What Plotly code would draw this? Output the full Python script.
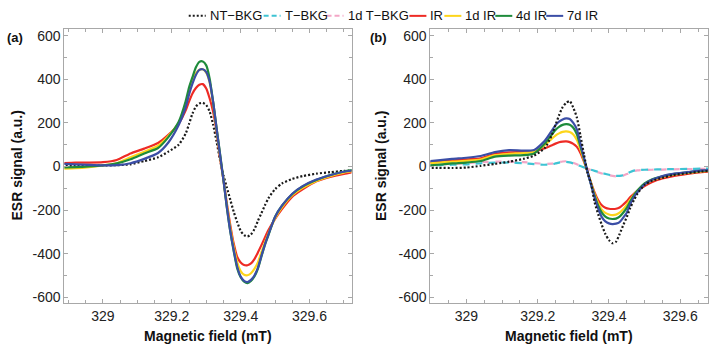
import plotly.graph_objects as go

# Magnetic field grid (mT), shared by all spectra
field = [328.88, 328.92, 328.96, 329.00, 329.04, 329.08, 329.12, 329.16, 329.19, 329.22,
         329.24, 329.25, 329.26, 329.27, 329.28, 329.29, 329.30, 329.31, 329.32, 329.33,
         329.34, 329.35, 329.36, 329.37, 329.38, 329.39, 329.40, 329.41, 329.42, 329.43,
         329.44, 329.45, 329.46, 329.47, 329.48, 329.50, 329.52, 329.55, 329.58, 329.62,
         329.66, 329.70, 329.73]

# Panel (a) spectra
a_nt_bkg = [5, 4, 4, 5, 6, 10, 25, 42, 68, 100,
            150, 195, 243, 275, 289, 292, 282, 252, 192, 115,
            30, -40, -97, -153, -209, -255, -295, -315, -321, -312,
            -288, -250, -215, -180, -147, -104, -78, -57, -44, -33,
            -26, -20, -17]
a_ir = [15, 18, 18, 20, 30, 60, 82, 108, 145, 197,
        257, 298, 335, 360, 375, 378, 358, 312, 251, 160,
        40, -60, -170, -270, -355, -415, -440, -452, -453, -445,
        -425, -395, -362, -328, -294, -240, -195, -138, -105, -68,
        -48, -34, -25]
a_1d_ir = [-10, -8, -3, 5, 15, 42, 68, 95, 140, 200,
           285, 340, 392, 428, 444, 446, 430, 385, 290, 172,
           50, -62, -180, -285, -370, -440, -480, -497, -499, -490,
           -470, -440, -395, -350, -310, -237, -187, -132, -98, -66,
           -44, -28, -20]
a_4d_ir = [-5, -3, 0, 5, 14, 33, 60, 85, 135, 205,
           298, 362, 410, 455, 480, 482, 464, 403, 297, 176,
           60, -60, -190, -300, -390, -468, -508, -528, -535, -525,
           -505, -470, -415, -362, -318, -230, -180, -126, -92, -62,
           -39, -23, -15]
a_7d_ir = [12, 10, 7, 5, 6, 15, 35, 62, 110, 190,
           270, 330, 380, 420, 443, 446, 433, 388, 297, 176,
           55, -62, -188, -298, -385, -460, -505, -525, -530, -520,
           -500, -465, -412, -360, -315, -232, -180, -125, -90, -60,
           -40, -24, -17]

# Panel (b) spectra
b_nt_bkg = [-6, -6, -7, -5, 3, 12, 22, 35, 50, 85,
            145, 190, 235, 272, 292, 300, 270, 225, 142, 55,
            -27, -80, -165, -220, -268, -310, -338, -352, -345, -310,
            -270, -232, -190, -155, -125, -84, -66, -52, -39, -31,
            -23, -18, -15]
b_t_bkg = [5, 6, 8, 10, 15, 18, 18, 15, 11, 8,
           10, 14, 18, 20, 21, 19, 14, 8, 2, -4,
           -10, -15, -20, -25, -30, -34, -38, -41, -43, -43,
           -40, -33, -25, -19, -17, -15, -14, -13, -12, -11,
           -10, -9, -8]
b_1d_t_bkg = [8, 10, 12, 15, 20, 22, 22, 20, 16, 12,
              13, 16, 20, 23, 24, 22, 17, 10, 3, -4,
              -11, -17, -22, -27, -32, -36, -40, -43, -45, -45,
              -42, -35, -27, -21, -18, -16, -15, -14, -13, -12,
              -11, -10, -9]
b_ir = [17, 22, 27, 33, 38, 58, 65, 68, 70, 84,
        98, 105, 111, 114, 115, 112, 104, 90, 62, 22,
        -25, -75, -120, -155, -178, -189, -194, -195, -194, -188,
        -175, -160, -140, -125, -112, -90, -72, -55, -44, -34,
        -26, -20, -16]
b_1d_ir = [14, 18, 22, 26, 32, 52, 58, 62, 68, 98,
           128, 142, 152, 159, 161, 158, 147, 122, 78, 28,
           -25, -78, -128, -168, -198, -213, -220, -223, -221, -212,
           -196, -176, -152, -130, -110, -82, -64, -48, -38, -29,
           -22, -17, -14]
b_4d_ir = [3, 8, 14, 18, 25, 45, 50, 52, 60, 105,
           148, 168, 182, 191, 194, 192, 178, 148, 92, 35,
           -25, -82, -135, -180, -212, -230, -239, -241, -239, -230,
           -212, -190, -160, -132, -110, -78, -60, -45, -35, -27,
           -20, -15, -12]
b_7d_ir = [22, 28, 35, 40, 48, 66, 75, 73, 76, 118,
           165, 190, 206, 216, 221, 218, 200, 170, 105, 40,
           -25, -85, -143, -195, -232, -252, -261, -264, -262, -255,
           -235, -212, -172, -140, -118, -82, -62, -44, -34, -26,
           -18, -14, -12]

# Series styling (name, colour, dash); the two background traces use
# dash patterns shifted by half a period so both stay visible where they overlap
names = ["NT\u2212BKG", "T\u2212BKG", "1d T\u2212BKG", "IR", "1d IR", "4d IR", "7d IR"]
colors = ["#1a1a1a", "#3ec3d3", "#f3a6c6", "#ee2b25", "#fdd51b", "#1e8b3b", "#3b4ea6"]
dashes = ["2px,2px", "7px,6px", "0px,7px,6px,0px", "solid", "solid", "solid", "solid"]
style = {n: (c, d) for n, c, d in zip(names, colors, dashes)}

panel_a = [("NT\u2212BKG", a_nt_bkg), ("IR", a_ir), ("1d IR", a_1d_ir),
           ("4d IR", a_4d_ir), ("7d IR", a_7d_ir)]
panel_b = [("1d T\u2212BKG", b_1d_t_bkg), ("T\u2212BKG", b_t_bkg), ("IR", b_ir),
           ("1d IR", b_1d_ir), ("4d IR", b_4d_ir), ("7d IR", b_7d_ir),
           ("NT\u2212BKG", b_nt_bkg)]

W, H = 709, 346
FONT = "Liberation Sans, Arial, Helvetica, sans-serif"

fig = go.Figure()
for axes, series in ((("x", "y"), panel_a), (("x2", "y2"), panel_b)):
    for name, vals in series:
        col, dash = style[name]
        fig.add_trace(go.Scatter(
            x=field, y=vals, mode="lines", name=name, showlegend=False,
            xaxis=axes[0], yaxis=axes[1],
            line=dict(color=col, width=2.2, dash=dash, shape="spline", smoothing=0.6),
        ))

def px(v):
    return v / W

def py(v):
    return 1 - v / H

y_ticks = [-600, -400, -200, 0, 200, 400, 600]
y_text = [str(v) for v in y_ticks]

axis_common = dict(
    showline=True, linecolor="#a8a8a8", linewidth=1, mirror="ticks",
    ticks="inside", ticklen=4, tickcolor="#a8a8a8", tickwidth=1,
    showgrid=False, zeroline=False,
    tickfont=dict(family=FONT, size=14, color="#222"),
)

x_a = dict(axis_common, domain=[px(64.5), px(352)], range=[328.888, 329.722],
           tick0=329, dtick=0.2, anchor="y",
           minor=dict(ticks="inside", dtick=0.05, tick0=329, ticklen=3, tickcolor="#a8a8a8"))
x_b = dict(axis_common, domain=[px(431), 1.0], range=[328.899, 329.678],
           tick0=329, dtick=0.2, anchor="y2",
           minor=dict(ticks="inside", dtick=0.05, tick0=329, ticklen=3, tickcolor="#a8a8a8"))
y_a = dict(axis_common, domain=[py(305), py(28)], range=[-628, 632],
           tickvals=y_ticks, ticktext=y_text, anchor="x",
           minor=dict(ticks="inside", dtick=100, tick0=0, ticklen=3, tickcolor="#a8a8a8"))
y_b = dict(y_a, anchor="x2")

fig.update_layout(
    width=W, height=H, margin=dict(l=0, r=0, t=0, b=0),
    paper_bgcolor="white", plot_bgcolor="white",
    xaxis=x_a, yaxis=y_a, xaxis2=x_b, yaxis2=y_b,
    font=dict(family=FONT, color="#111"),
)

# Axis titles and panel tags
ann = []
for cx in (208, 570):
    ann.append(dict(x=px(cx), y=py(338), text="<b>Magnetic field (mT)</b>",
                    font=dict(size=14, family=FONT, color="#111")))
for cx in (17, 381):
    ann.append(dict(x=px(cx), y=py(166), text="<b>ESR signal (a.u.)</b>", textangle=-90,
                    font=dict(size=14, family=FONT, color="#111")))
for cx, tag in ((15, "(a)"), (379, "(b)")):
    ann.append(dict(x=px(cx), y=py(37), text="<b>" + tag + "</b>",
                    font=dict(size=13, family=FONT, color="#111")))

# Legend row across the top
legend_x = [189, 264, 327, 410, 445, 496, 547]
shapes = []
for name, x0 in zip(names, legend_x):
    col, dash = style[name]
    sample_dash = "5px,3px" if "BKG" in name and name != names[0] else dash
    shapes.append(dict(type="line", xref="paper", yref="paper",
                       x0=px(x0), x1=px(x0 + 17), y0=py(15), y1=py(15),
                       line=dict(color=col, width=2, dash=sample_dash)))
    ann.append(dict(x=px(x0 + 19), y=py(15), text=name, xanchor="left",
                    font=dict(size=13, family=FONT, color="#111")))

for a in ann:
    a.setdefault("xref", "paper")
    a.setdefault("yref", "paper")
    a.setdefault("showarrow", False)
    a.setdefault("xanchor", "center")
    a.setdefault("yanchor", "middle")
fig.update_layout(annotations=ann, shapes=shapes)

fig.write_html("out.html")
